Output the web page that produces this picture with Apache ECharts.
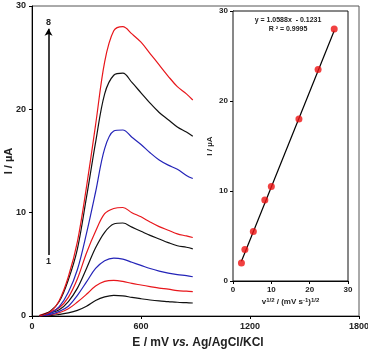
<!DOCTYPE html>
<html><head><meta charset="utf-8">
<script src="https://cdn.jsdelivr.net/npm/echarts@6/dist/echarts.min.js"></script>
<style>html,body{margin:0;padding:0;background:#fff}#c{width:368px;height:353px}</style>
</head><body><div id="c"></div>
<script>
// Potential grid (mV vs. Ag/AgCl/KCl)
const E = [40,100,150,200,250,300,350,400,450,500,550,600,650,700,750,800,850,885];
// Currents (µA), curves 1 (lowest) .. 8 (highest)
const c1 = [0,0.03,0.15,0.3,0.55,0.95,1.5,1.85,2.0,1.95,1.8,1.67,1.55,1.46,1.4,1.33,1.29,1.26];
const c2 = [0,0.1,0.32,0.7,1.35,2.1,2.9,3.35,3.45,3.35,3.15,3.0,2.85,2.7,2.6,2.46,2.4,2.36];
const c3 = [0,0.15,0.45,0.95,2.0,3.3,4.6,5.35,5.6,5.5,5.2,4.9,4.6,4.35,4.15,4.0,3.9,3.8];
const c4 = [0.03,0.3,0.6,1.4,2.7,4.6,6.6,8.1,8.9,9.0,8.6,8.2,7.8,7.45,7.1,6.8,6.65,6.5];
const c5 = [0.05,0.4,0.8,1.8,3.6,6.1,8.2,9.9,10.4,10.5,10.0,9.6,9.1,8.65,8.3,7.95,7.75,7.6];
const c6 = [0,0.25,0.9,2.3,4.5,8.0,12.0,16.2,17.9,18.0,17.3,16.6,15.8,15.1,14.6,14.2,13.6,13.3];
const c7 = [0,0.45,1.4,3.5,6.5,11.5,16.8,21.5,23.3,23.5,22.6,21.6,20.6,19.7,19.0,18.3,17.8,17.4];
const c8 = [0,0.4,1.5,3.8,7.2,12.5,18.5,24.6,27.6,28.0,27.3,26.5,25.4,24.3,23.2,22.2,21.5,20.9];
const curves = [c1,c2,c3,c4,c5,c6,c7,c8];
const curveColors = ['#111111','#e8161b','#2424b8','#111111','#e8161b','#2424b8','#111111','#e8161b'];
// Inset: peak current vs square root of scan rate
const sqrtV = [2.2,3.1,5.3,8.3,10.0,17.2,22.2,26.4];
const Ip = [2.0,3.5,5.5,9.0,10.5,18.0,23.5,28.0];
const fitX = [2.2,26.4];
const fitY = [2.2,27.8];
// Arrow annotation (E, I)
const arrowE = 91, arrowFrom = 5.9, arrowTo = 27.8;

const chart = echarts.init(document.getElementById('c'), null, {renderer:'canvas'});
const FONT = 'Liberation Sans, Arial, sans-serif';
const plain = v => String(v);
const series = curves.map((c,k)=>({
  type:'line', xAxisIndex:0, yAxisIndex:0, showSymbol:false, smooth:0.35,
  lineStyle:{color:curveColors[k], width:1.2}, z:3,
  data:E.map((e,i)=>[e,c[i]])
}));
series[0].markLine = {
  silent:true, symbol:['none','arrow'], symbolSize:[6,7],
  lineStyle:{color:'#000', width:1.5, type:'solid'}, label:{show:false},
  data:[[{coord:[arrowE,arrowFrom]},{coord:[arrowE,arrowTo]}]]
};
series.push({
  type:'line', xAxisIndex:1, yAxisIndex:1, showSymbol:false,
  lineStyle:{color:'#000', width:1.2}, data:fitX.map((x,i)=>[x,fitY[i]]), z:4
});
series.push({
  type:'scatter', xAxisIndex:1, yAxisIndex:1, symbolSize:7,
  itemStyle:{color:'#ee1111'}, data:sqrtV.map((x,i)=>[x,Ip[i]]), z:5
});
chart.setOption({
  animation:false,
  textStyle:{fontFamily:FONT},
  grid:[
    {left:32, top:6, width:327, height:310, show:true, borderColor:'#555', borderWidth:1, outerBoundsMode:'none', containLabel:false},
    {left:233, top:11, width:115, height:270, show:true, borderColor:'#111', borderWidth:1, backgroundColor:'#fff', z:4, outerBoundsMode:'none', containLabel:false}
  ],
  xAxis:[
    {gridIndex:0, type:'value', min:0, max:1800, interval:600,
     axisLine:{lineStyle:{color:'#000', width:1}}, axisTick:{show:true, length:3, lineStyle:{color:'#000'}},
     splitLine:{show:false},
     axisLabel:{color:'#222', fontSize:9, fontWeight:'bold', margin:6, fontFamily:FONT, formatter:plain}},
    {gridIndex:1, type:'value', min:0, max:30, interval:10,
     axisLine:{lineStyle:{color:'#000'}}, axisTick:{show:true, length:3, lineStyle:{color:'#000'}},
     splitLine:{show:false},
     axisLabel:{color:'#222', fontSize:8, fontWeight:'bold', margin:5, fontFamily:FONT, formatter:plain},
     name:'v{s|1/2} / (mV s{s|-1}){s|1/2}', nameLocation:'middle', nameGap:16, nameMoveOverlap:false,
     nameTextStyle:{color:'#222', fontSize:8, fontWeight:'bold', fontFamily:FONT,
       rich:{s:{fontSize:6, fontWeight:'bold', verticalAlign:'top', padding:[0,0,4,0], color:'#222'}}}}
  ],
  yAxis:[
    {gridIndex:0, type:'value', min:0, max:30, interval:10,
     axisLine:{show:true, lineStyle:{color:'#000', width:1}}, axisTick:{show:true, length:3, lineStyle:{color:'#000'}},
     splitLine:{show:false},
     axisLabel:{color:'#222', fontSize:9, fontWeight:'bold', margin:6, fontFamily:FONT, formatter:plain},
     name:'I / µA', nameLocation:'middle', nameGap:18, nameMoveOverlap:false,
     nameTextStyle:{color:'#222', fontSize:11, fontWeight:'bold', fontFamily:FONT}},
    {gridIndex:1, type:'value', min:0, max:30, interval:10,
     axisLine:{show:true, lineStyle:{color:'#000'}}, axisTick:{show:true, length:3, lineStyle:{color:'#000'}},
     splitLine:{show:false},
     axisLabel:{color:'#222', fontSize:8, fontWeight:'bold', margin:5, fontFamily:FONT, formatter:plain},
     name:'I / µA', nameLocation:'middle', nameGap:19, nameMoveOverlap:false,
     nameTextStyle:{color:'#222', fontSize:8, fontWeight:'bold', fontFamily:FONT}}
  ],
  series:series,
  graphic:[
    {type:'text', x:198, y:343, style:{text:'{n|E / mV }{i|vs.}{n| Ag/AgCl/KCl}', align:'center', verticalAlign:'middle',
      rich:{n:{fontSize:12, fontWeight:'bold', fontFamily:FONT, fill:'#222'}, i:{fontSize:12, fontWeight:'bold', fontStyle:'italic', fontFamily:FONT, fill:'#222'}}}, z:10},
    {type:'text', x:48.5, y:23, style:{text:'8', font:'bold 9px '+FONT, fill:'#222', align:'center', verticalAlign:'middle'}, z:10},
    {type:'text', x:48.5, y:262, style:{text:'1', font:'bold 9px '+FONT, fill:'#222', align:'center', verticalAlign:'middle'}, z:10},
    {type:'text', x:288, y:20, style:{text:'y = 1.0588x  - 0.1231', font:'bold 7px '+FONT, fill:'#222', align:'center', verticalAlign:'middle'}, z:10},
    {type:'text', x:288, y:29, style:{text:'R ² = 0.9995', font:'bold 7px '+FONT, fill:'#222', align:'center', verticalAlign:'middle'}, z:10}
  ]
});
</script></body></html>
